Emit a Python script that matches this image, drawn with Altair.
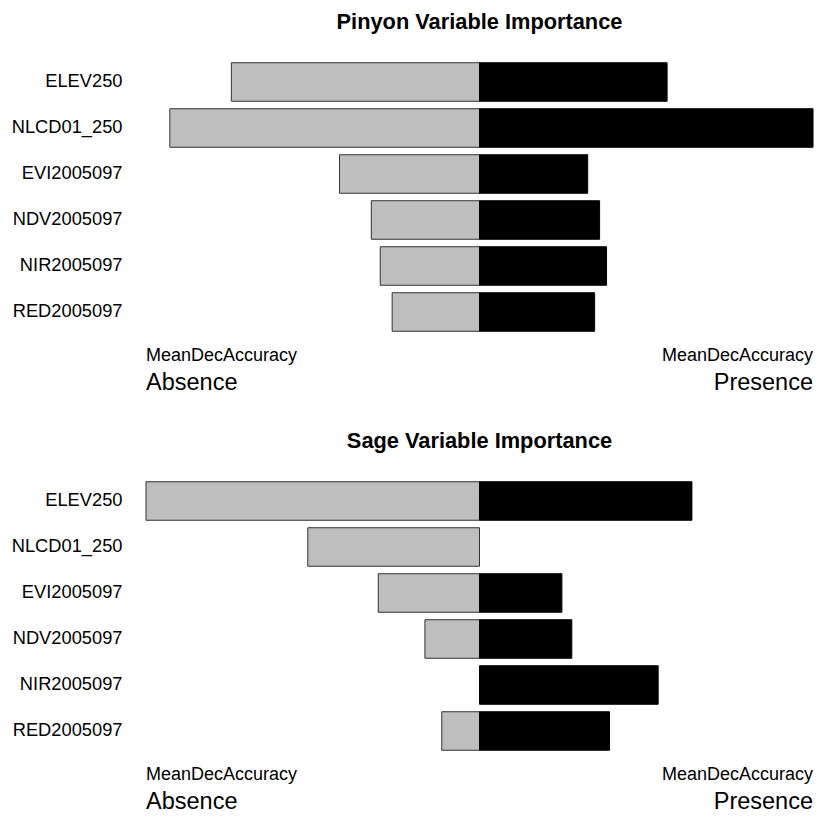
import altair as alt
import pandas as pd

variables = ["ELEV250", "NLCD01_250", "EVI2005097", "NDV2005097", "NIR2005097", "RED2005097"]
pinyon_absence = [250, 312, 141, 109, 100, 88]
pinyon_presence = [189, 336, 109, 121, 128, 116]
sage_absence = [336, 173, 102, 55, 0, 38]
sage_presence = [214, 0, 83, 93, 180, 131]
titles = ["Pinyon Variable Importance", "Sage Variable Importance"]
measure = "MeanDecAccuracy"
sides = ["Absence", "Presence"]

FONT = "Liberation Sans"
W, H = 667, 276


def note(text, x, y, size, align):
    return alt.Chart(pd.DataFrame({"t": [text]})).mark_text(
        align=align, baseline="alphabetic", fontSize=size, font=FONT, color="black"
    ).encode(text="t:N", x=alt.value(x), y=alt.value(y))


def panel(title, absence, presence):
    df = pd.DataFrame({
        "variable": variables * 2,
        "side": [sides[0]] * len(variables) + [sides[1]] * len(variables),
        "value": [-a for a in absence] + list(presence),
    })
    m = max(max(absence), max(presence))
    bars = alt.Chart(df).transform_filter("datum.value != 0").mark_bar(strokeWidth=1).encode(
        x=alt.X("value:Q", scale=alt.Scale(domain=[-m, m], nice=False), axis=None),
        y=alt.Y("variable:N", sort=variables,
                scale=alt.Scale(paddingInner=0.163, paddingOuter=0.0815),
                axis=alt.Axis(title=None, domain=False, ticks=False, grid=False,
                              labelFontSize=18.3, labelFont=FONT, labelColor="black",
                              labelPadding=24, labelLimit=300)),
        color=alt.Color("side:N", scale=alt.Scale(domain=sides, range=["#BEBEBE", "#000000"]), legend=None),
        stroke=alt.Stroke("side:N", scale=alt.Scale(domain=sides, range=["#333333", "#000000"]), legend=None),
    )
    layers = [
        bars,
        note(measure, 0, H + 26, 18, "left"),
        note(measure, W, H + 26, 18, "right"),
        note(sides[0], 0, H + 55, 23.5, "left"),
        note(sides[1], W, H + 55, 23.5, "right"),
    ]
    return alt.layer(*layers).properties(
        width=W, height=H,
        title=alt.TitleParams(title, fontSize=21.8, font=FONT, fontWeight="bold",
                              anchor="middle", frame="group", baseline="alphabetic",
                              offset=8, color="black"),
    )


chart = alt.vconcat(
    panel(titles[0], pinyon_absence, pinyon_presence),
    panel(titles[1], sage_absence, sage_presence),
    spacing=36,
).properties(
    padding={"left": 3, "top": 4, "right": 0, "bottom": 0},
    background="white",
).configure_view(stroke=None)

chart.save("out.html", embed_options={"renderer": "svg", "actions": False})
